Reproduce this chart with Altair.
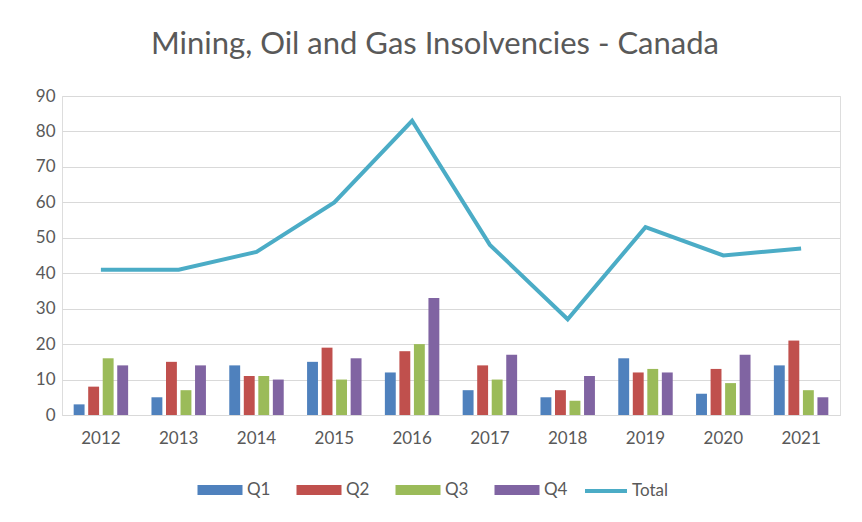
import altair as alt
import pandas as pd

years = ["2012", "2013", "2014", "2015", "2016", "2017", "2018", "2019", "2020", "2021"]
q1 = [3, 5, 14, 15, 12, 7, 5, 16, 6, 14]
q2 = [8, 15, 11, 19, 18, 14, 7, 12, 13, 21]
q3 = [16, 7, 11, 10, 20, 10, 4, 13, 9, 7]
q4 = [14, 14, 10, 16, 33, 17, 11, 12, 17, 5]
total = [41, 41, 46, 60, 83, 48, 27, 53, 45, 47]
quarters = ["Q1", "Q2", "Q3", "Q4"]
bar_colors = ["#4F81BD", "#C0504D", "#9BBB59", "#8064A2"]
line_color = "#4BACC6"

rows = []
for i, y in enumerate(years):
    for q, vals in zip(quarters, [q1, q2, q3, q4]):
        rows.append({"Year": y, "Quarter": q, "Value": vals[i]})
bars_df = pd.DataFrame(rows)
line_df = pd.DataFrame({"Year": years, "Total": total, "Series": ["Total"] * len(years)})

FONT = "Lato"
GREY = "#595959"

xscale = alt.Scale(paddingInner=0.3, paddingOuter=0.15)
xaxis = alt.Axis(title=None, labelAngle=0, ticks=False, domainColor="#d9d9d9",
                 labelFontSize=17, labelColor=GREY, labelFont=FONT, labelPadding=15)
yscale = alt.Scale(domain=[0, 90])
yaxis = alt.Axis(title=None, values=list(range(0, 91, 10)), ticks=False, domain=False,
                 gridColor="#d9d9d9", labelFontSize=17, labelColor=GREY, labelFont=FONT,
                 labelPadding=7)

rect_path = "M-2.25,-0.5L2.25,-0.5L2.25,0.5L-2.25,0.5Z"

bars = alt.Chart(bars_df).mark_bar().encode(
    x=alt.X("Year:N", scale=xscale, axis=xaxis),
    xOffset=alt.XOffset("Quarter:N", scale=alt.Scale(paddingInner=0.25)),
    y=alt.Y("Value:Q", scale=yscale, axis=yaxis),
    color=alt.Color("Quarter:N",
                    scale=alt.Scale(domain=quarters, range=bar_colors),
                    legend=alt.Legend(title=None, orient="none", direction="horizontal",
                                      legendX=148, legendY=384,
                                      symbolType=rect_path, symbolSize=400,
                                      symbolStrokeWidth=0, symbolOpacity=1,
                                      labelFontSize=17, labelColor=GREY, labelFont=FONT,
                                      labelOffset=17, columnPadding=25)),
)

line = alt.Chart(line_df).mark_line(strokeWidth=4).encode(
    x=alt.X("Year:N", scale=xscale, axis=xaxis),
    y=alt.Y("Total:Q", scale=yscale, axis=yaxis),
    stroke=alt.Stroke("Series:N",
                      scale=alt.Scale(domain=["Total"], range=[line_color]),
                      legend=alt.Legend(title=None, orient="none", direction="horizontal",
                                        legendX=521, legendY=372,
                                        symbolType="stroke", symbolSize=1764,
                                        symbolStrokeWidth=4,
                                        labelFontSize=17, labelColor=GREY, labelFont=FONT,
                                        labelOffset=3)),
)

chart = alt.layer(bars, line).properties(
    width=778,
    height=319,
    autosize=alt.AutoSizeParams(type="none"),
    padding={"left": 54, "top": 88, "right": 8, "bottom": 99},
    title=alt.Title("Mining, Oil and Gas Insolvencies - Canada", fontSize=31,
                    font=FONT, fontWeight="normal", color=GREY, offset=26, dx=-16),
).configure_view(stroke=None).configure(background="white")

chart.save("out.html", embed_options={"renderer": "svg", "actions": False})
